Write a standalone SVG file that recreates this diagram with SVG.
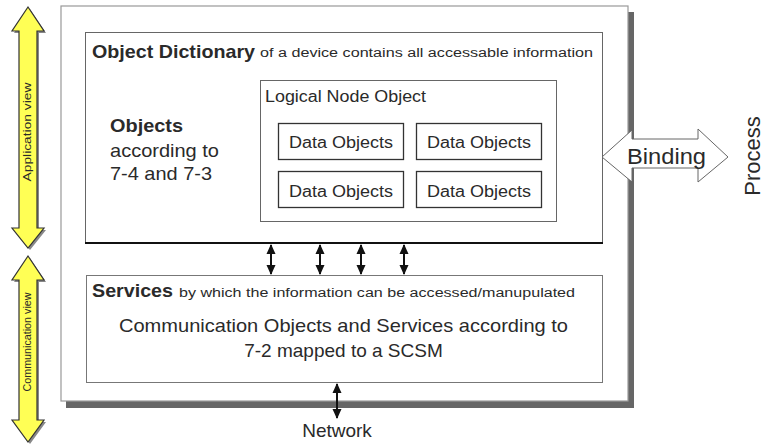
<svg xmlns="http://www.w3.org/2000/svg" width="766" height="447" viewBox="0 0 766 447">
<defs>
<marker id="ah" viewBox="0 0 10 10" refX="9" refY="5" markerWidth="10" markerHeight="10" markerUnits="userSpaceOnUse" orient="auto-start-reverse">
<path d="M0,0.5 L10,5 L0,9.5 Z" fill="#111"/>
</marker>
</defs>
<style>
text{font-family:"Liberation Sans",Arial,sans-serif;fill:#2a2a2a}
.b{font-weight:bold}
.dobox{fill:#fff;stroke:#333;stroke-width:1.3}
.conn{stroke:#111;stroke-width:2;fill:none;marker-start:url(#ah);marker-end:url(#ah)}
.yel{fill:#ffff55;stroke:#333;stroke-width:1.2}
.ysh{fill:#888}
</style>
<rect width="766" height="447" fill="#fff"/>

<g id="application-view">
<polygon class="ysh" points="30,9 46,33 39,33 39,230 46,230 30,250 14,230 21,230 21,33 14,33"/>
<polygon class="yel" points="28,7 44,31 37,31 37,228 44,228 28,248 12,228 19,228 19,31 12,31"/>
<text transform="translate(31,132) rotate(-90)" text-anchor="middle" font-size="10" textLength="99" lengthAdjust="spacingAndGlyphs">Application view</text>
</g>
<g id="communication-view">
<polygon class="ysh" points="30,258 46,282 39,282 39,422 46,422 30,444 14,422 21,422 21,282 14,282"/>
<polygon class="yel" points="28,256 44,280 37,280 37,420 44,420 28,442 12,420 19,420 19,280 12,280"/>
<text transform="translate(31,342) rotate(-90)" text-anchor="middle" font-size="10" textLength="99" lengthAdjust="spacingAndGlyphs">Communication view</text>
</g>

<g id="device">
<rect x="66" y="12" width="568" height="396" fill="#666"/>
<rect x="61" y="6" width="567" height="395" fill="#fff" stroke="#999" stroke-width="1.2"/>
</g>

<g id="object-dictionary">
<rect x="85.5" y="32.5" width="517" height="211" fill="#fff" stroke="#666" stroke-width="1"/>
<line x1="85" y1="243" x2="603" y2="243" stroke="#111" stroke-width="2"/>
<text x="92" y="58" font-size="19" class="b" textLength="163" lengthAdjust="spacingAndGlyphs">Object Dictionary</text>
<text x="260" y="57" font-size="12.5" textLength="333" lengthAdjust="spacingAndGlyphs">of a device contains all accessable information</text>
<text x="110" y="132" font-size="19" class="b" textLength="73" lengthAdjust="spacingAndGlyphs">Objects</text>
<text x="110" y="157" font-size="19" textLength="109" lengthAdjust="spacingAndGlyphs">according to</text>
<text x="110" y="180" font-size="19" textLength="102" lengthAdjust="spacingAndGlyphs">7-4 and 7-3</text>
</g>

<g id="logical-node-object">
<rect x="260.5" y="80.5" width="296" height="141" fill="#fff" stroke="#666" stroke-width="1"/>
<text x="265" y="102" font-size="16" textLength="161" lengthAdjust="spacingAndGlyphs">Logical Node Object</text>
</g>
<g id="data-objects-1">
<rect class="dobox" x="278.5" y="123.5" width="125" height="36"/>
<text x="341" y="148" font-size="16" text-anchor="middle" textLength="104" lengthAdjust="spacingAndGlyphs">Data Objects</text>
</g>
<g id="data-objects-2">
<rect class="dobox" x="416.5" y="123.5" width="125" height="36"/>
<text x="479" y="148" font-size="16" text-anchor="middle" textLength="104" lengthAdjust="spacingAndGlyphs">Data Objects</text>
</g>
<g id="data-objects-3">
<rect class="dobox" x="278.5" y="171.5" width="125" height="36"/>
<text x="341" y="197" font-size="16" text-anchor="middle" textLength="104" lengthAdjust="spacingAndGlyphs">Data Objects</text>
</g>
<g id="data-objects-4">
<rect class="dobox" x="416.5" y="171.5" width="125" height="36"/>
<text x="479" y="197" font-size="16" text-anchor="middle" textLength="104" lengthAdjust="spacingAndGlyphs">Data Objects</text>
</g>

<g id="services">
<rect x="86.5" y="275.5" width="516" height="107" fill="#fff" stroke="#777" stroke-width="1"/>
<text x="92" y="297" font-size="19" class="b" textLength="81" lengthAdjust="spacingAndGlyphs">Services</text>
<text x="179" y="297" font-size="12.5" textLength="396" lengthAdjust="spacingAndGlyphs">by which the information can be accessed/manupulated</text>
<text x="343.5" y="332" font-size="19" text-anchor="middle" textLength="449" lengthAdjust="spacingAndGlyphs">Communication Objects and Services according to</text>
<text x="343.5" y="357" font-size="19" text-anchor="middle">7-2 mapped to a SCSM</text>
</g>

<g id="binding">
<polygon points="602,157 632,130 632,139 698,139 698,129 728,157 698,182 698,168 632,168 632,182" fill="#fff" stroke="#666" stroke-width="1"/>
<text x="627" y="164" font-size="22" textLength="79" lengthAdjust="spacingAndGlyphs">Binding</text>
</g>
<g id="process">
<text transform="translate(760,156) rotate(-90)" text-anchor="middle" font-size="22">Process</text>
</g>
<g id="network">
<text x="337" y="437" font-size="19" text-anchor="middle">Network</text>
</g>

<g id="connectors">
<line class="conn" x1="271" y1="245" x2="271" y2="274"/>
<line class="conn" x1="320" y1="245" x2="320" y2="274"/>
<line class="conn" x1="361" y1="245" x2="361" y2="274"/>
<line class="conn" x1="404" y1="245" x2="404" y2="274"/>
<line class="conn" x1="337" y1="384" x2="337" y2="418"/>
</g>
</svg>
